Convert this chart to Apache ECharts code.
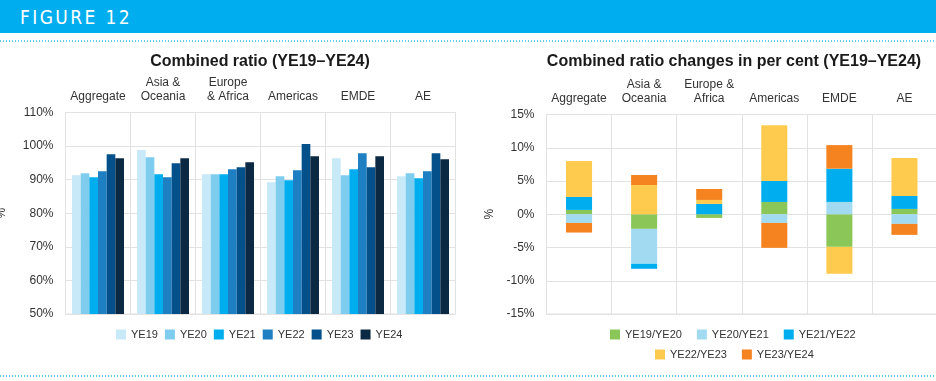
<!DOCTYPE html>
<html>
<head>
<meta charset="utf-8">
<script src="https://cdn.jsdelivr.net/npm/echarts@6/dist/echarts.min.js"></script>
<style>
html,body{margin:0;padding:0;background:#fff;}
#wrap{position:relative;width:936px;height:381px;overflow:hidden;}
#chart{position:absolute;left:0;top:0;width:936px;height:381px;}
#hdr{position:absolute;left:0;top:0;width:936px;height:33px;background:#00AEEF;z-index:2;}
#hdr span{position:absolute;left:20px;top:6px;color:#fff;font-family:"Liberation Sans Narrow","DejaVu Sans Condensed",sans-serif;font-size:19px;letter-spacing:2.4px;line-height:22px;}
.dots{position:absolute;left:0;width:936px;height:2px;z-index:2;background-image:repeating-linear-gradient(to right,#62CBF2 0px,#62CBF2 1px,transparent 1px,transparent 3px);}
</style>
</head>
<body>
<div id="wrap">
<div id="chart"></div>
<div id="hdr"><span>FIGURE 12</span></div>
<div class="dots" style="top:40px"></div>
<div class="dots" style="top:375px"></div>
</div>
<script>
// ---- data ----
var categoriesLeft = ['Aggregate', 'Asia &\nOceania', 'Europe\n& Africa', 'Americas', 'EMDE', 'AE'];
var categoriesRight = ['Aggregate', 'Asia &\nOceania', 'Europe &\nAfrica', 'Americas', 'EMDE', 'AE'];

var yearNames = ['YE19', 'YE20', 'YE21', 'YE22', 'YE23', 'YE24'];
var ye19 = [91.3, 98.8, 91.6, 89.2, 96.4, 91.0];
var ye20 = [91.9, 96.7, 91.6, 91.0, 91.3, 91.9];
var ye21 = [90.7, 91.6, 91.6, 89.8, 93.1, 90.4];
var ye22 = [92.5, 90.7, 93.1, 92.8, 97.9, 92.5];
var ye23 = [97.6, 94.9, 93.7, 100.6, 93.7, 97.9];
var ye24 = [96.4, 96.4, 95.2, 97.0, 97.0, 96.1];

var changeNames = ['YE19/YE20', 'YE20/YE21', 'YE21/YE22', 'YE22/YE23', 'YE23/YE24'];
var c1920 = [0.65, -2.2, -0.55, 1.85, -4.9, 0.8];
var c2021 = [-1.3, -5.25, 0, -1.3, 1.85, -1.45];
var c2122 = [1.95, -0.75, 1.55, 3.15, 5.0, 1.95];
var c2223 = [5.4, 4.4, 0.6, 8.4, -4.05, 5.7];
var c2324 = [-1.45, 1.5, 1.65, -3.75, 3.55, -1.65];

var leftTicks = { min: 50, max: 110, interval: 10 };
var rightTicks = { min: -15, max: 15, interval: 5 };

// ---- styles ----
var yearColors = ['#C7E9F8', '#7FCDEE', '#00AEEF', '#1E7FC3', '#04508A', '#0C2944'];
var changeColors = ['#8BC659', '#A2DAF2', '#00AEEF', '#FFCB4F', '#F58320'];
var FONT = '"Liberation Sans", Arial, sans-serif';
var TXT = '#333';
var GRID = '#E2E2E2';

var chart = echarts.init(document.getElementById('chart'), null, { renderer: 'canvas' });

function xAxisCfg(idx, cats) {
  return {
    type: 'category', gridIndex: idx, data: cats, position: 'top',
    axisLine: { show: false }, axisTick: { show: false },
    axisLabel: { interval: 0, margin: 9, fontSize: 12, lineHeight: 14, color: TXT, fontFamily: FONT },
    splitLine: { show: true, interval: 0, lineStyle: { color: GRID, width: 1 } }
  };
}
function yAxisCfg(idx, t, gap) {
  return {
    type: 'value', gridIndex: idx, min: t.min, max: t.max, interval: t.interval,
    name: '%', nameLocation: 'middle', nameRotate: 90, nameGap: gap,
    nameTextStyle: { fontSize: 12, color: TXT, fontFamily: FONT },
    axisLine: { show: false }, axisTick: { show: false },
    axisLabel: { formatter: '{value}%', fontSize: 12, color: TXT, fontFamily: FONT, margin: 12 },
    splitLine: { show: true, lineStyle: { color: GRID, width: 1 } }
  };
}

var yearData = [ye19, ye20, ye21, ye22, ye23, ye24];
var changeData = [c1920, c2021, c2122, c2223, c2324];

var series = [];
yearData.forEach(function (d, i) {
  series.push({
    name: yearNames[i], type: 'bar', xAxisIndex: 0, yAxisIndex: 0, data: d,
    barGap: '0%', barCategoryGap: '20%', itemStyle: { color: yearColors[i] }
  });
});
changeData.forEach(function (d, i) {
  series.push({
    name: changeNames[i], type: 'bar', xAxisIndex: 1, yAxisIndex: 1, data: d,
    stack: 'chg', barWidth: '40%', itemStyle: { color: changeColors[i] }
  });
});

var legendBase = {
  icon: 'rect', itemWidth: 10, itemHeight: 10,
  textStyle: { fontSize: 11, color: TXT, fontFamily: FONT, padding: [0, 0, 0, 0] },
  selectedMode: false, orient: 'horizontal', padding: 0
};

chart.setOption({
  animation: false,
  textStyle: { fontFamily: FONT },
  graphic: [
    { type: 'text', x: 260, y: 62, style: { text: 'Combined ratio (YE19\u2013YE24)', fill: '#1a1a1a', font: 'bold 16px ' + FONT, textAlign: 'center', textVerticalAlign: 'middle' } },
    { type: 'text', x: 734, y: 62, style: { text: 'Combined ratio changes in per cent (YE19\u2013YE24)', fill: '#1a1a1a', font: 'bold 16px ' + FONT, textAlign: 'center', textVerticalAlign: 'middle' } }
  ],
  grid: [
    { left: 65.5, right: 480.5, top: 112.5, bottom: 67, show: true, borderColor: GRID, borderWidth: 1, containLabel: false, outerBoundsMode: 'none' },
    { left: 546.5, right: -1, top: 114.5, bottom: 67, show: true, borderColor: GRID, borderWidth: 1, containLabel: false, outerBoundsMode: 'none' }
  ],
  xAxis: [xAxisCfg(0, categoriesLeft), xAxisCfg(1, categoriesRight)],
  yAxis: [yAxisCfg(0, leftTicks, 58), yAxisCfg(1, rightTicks, 51)],
  legend: [
    Object.assign({}, legendBase, { data: yearNames, left: 116, top: 329, itemGap: 7 }),
    Object.assign({}, legendBase, { data: changeNames.slice(0, 3), left: 610, top: 329, itemGap: 15 }),
    Object.assign({}, legendBase, { data: changeNames.slice(3), left: 655, top: 349, itemGap: 15 })
  ],
  series: series
});
</script>
</body>
</html>
